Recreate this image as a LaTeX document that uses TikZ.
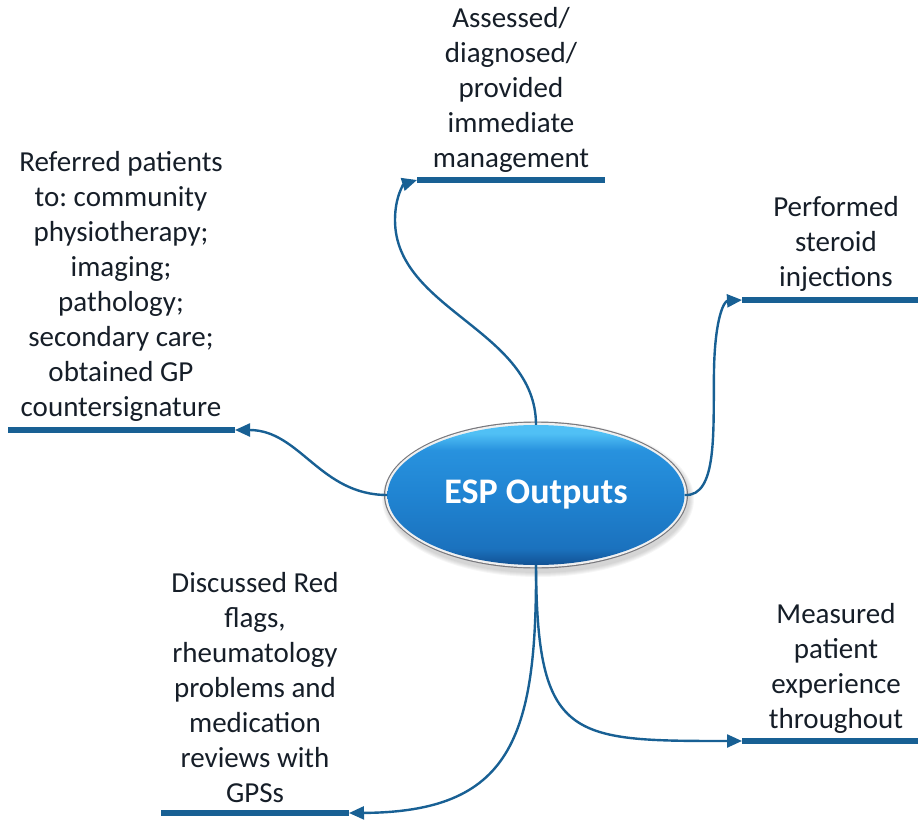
\documentclass[tikz,border=0pt]{standalone}
\usepackage{fontspec}
\setmainfont{Carlito}
\frenchspacing
\usetikzlibrary{arrows.meta,shapes.geometric}
\definecolor{lnk}{RGB}{24,96,148}
\definecolor{ink}{RGB}{22,30,40}
\definecolor{hubhi}{RGB}{80,192,245}
\definecolor{hubup}{RGB}{40,146,222}
\definecolor{hubmid}{RGB}{32,132,210}
\definecolor{hublo}{RGB}{27,114,190}
\definecolor{hubbot}{RGB}{18,82,148}
\definecolor{rimout}{RGB}{120,120,125}
\definecolor{rimin}{RGB}{240,240,240}
% body shading of the central ellipse: bright upper edge, darker lower edge
\pgfdeclareverticalshading{hubshade}{100bp}{
  color(0bp)=(hubbot); color(25bp)=(hubbot); color(31bp)=(hublo);
  color(50bp)=(hubmid); color(66bp)=(hubup); color(72bp)=(hubhi);
  color(75bp)=(hubhi); color(100bp)=(hubhi)}
\begin{document}
\begin{tikzpicture}[x=1pt,y=-1pt,
  conn/.style={draw=lnk, line width=2.4pt, -{Triangle[length=15pt,width=13pt]}},
  bar/.style={draw=lnk, line width=6pt},
  lbl/.style={anchor=south, align=center, inner sep=0pt, text=ink,
    font=\fontsize{29}{35}\selectfont, execute at end node=\strut},
  hub/.style={ellipse, inner sep=0pt, minimum width=297pt, minimum height=140pt,
    shading=hubshade, text=white, font=\bfseries\fontsize{36}{40}\selectfont}]
\useasboundingbox (0,0) rectangle (918,821);

% soft shadow and silver rim behind the central ellipse
\foreach \r in {10,8,6,4,2}
  \fill[black, opacity=0.035] (538,499) ellipse [x radius=151+\r/2, y radius=73+\r/2];
\fill[rimout] (536,495) ellipse [x radius=152, y radius=73.5];
\fill[rimin] (536,495) ellipse [x radius=150.8, y radius=72.3];
\node[hub] (hub) at (536,495) {\raisebox{-4pt}{ESP Outputs}};

% bars under the labels
\coordinate (tS) at (417,180);  \coordinate (tE) at (605,180);
\coordinate (lS) at (235,430);  \coordinate (lE) at (8,430);
\coordinate (rS) at (742,300);  \coordinate (rE) at (918,300);
\coordinate (qS) at (742,741);  \coordinate (qE) at (918,741);
\coordinate (bS) at (349,813);  \coordinate (bE) at (161,813);
\draw[bar] (tS) -- (tE);
\draw[bar] (lS) -- (lE);
\draw[bar] (rS) -- (rE);
\draw[bar] (qS) -- (qE);
\draw[bar] (bS) -- (bE);

% labels
\node[lbl] (tL) at (511,178.5) {Assessed/\\diagnosed/\\provided\\immediate\\management};
\node[lbl] (lL) at (121,427.5) {Referred patients\\to: community\\physiotherapy;\\imaging;\\pathology;\\secondary care;\\obtained GP\\countersignature};
\node[lbl] (rL) at (836,297.5) {Performed\\steroid\\injections};
\node[lbl] (qL) at (836,739.5) {Measured\\patient\\experience\\throughout};
\node[lbl] (bL) at (255,813.5) {Discussed Red\\flags,\\rheumatology\\problems and\\medication\\reviews with\\GPSs};

% connectors
\draw[conn] (hub.north) .. controls (536,330) and (395,310) .. (395,220)
  .. controls (395,196) and (404,184) .. (tS);
\draw[conn] (hub.west) .. controls (320,495) and (300,430) .. (lS);
\draw[conn] (hub.east) .. controls (718,497) and (713,430) .. (714,370)
  .. controls (715,318) and (724,301) .. (rS);
\draw[conn] (hub.south) .. controls (537,740) and (570,741) .. (qS);
\draw[conn] (hub.south) .. controls (537,740) and (510,812) .. (bS);
\end{tikzpicture}
\end{document}
